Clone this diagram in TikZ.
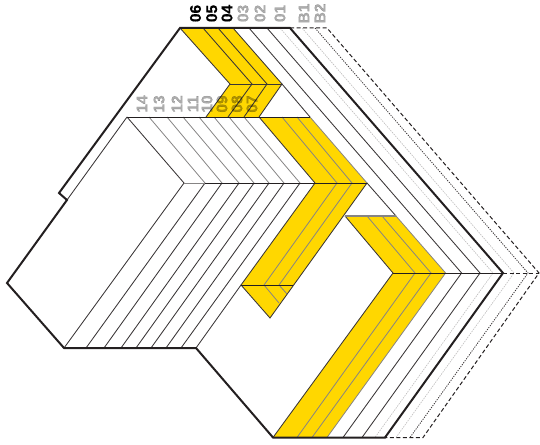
\documentclass[tikz,border=0pt]{standalone}
\usepackage{fontspec}
\setmainfont{Liberation Sans}
\newfontfamily\labfont[FakeBold=0.6]{Liberation Sans Bold}
\definecolor{band}{RGB}{255,215,0}
\definecolor{dk}{RGB}{35,31,32}
\tikzset{
 x=1pt,y=-1pt,
 thick line/.style={draw=dk,line width=2pt,line join=miter},
 thin line/.style={draw=dk!90,line width=.85pt},
 soft line/.style={draw=dk!55,line width=.8pt},
 rule line/.style={draw=dk,line width=1pt},
 dash line/.style={draw=dk,line width=1pt,dash pattern=on 4pt off 2.5pt},
 dot line/.style={draw=dk!90,line width=.8pt,dash pattern=on 1.2pt off 1.2pt},
 faint line/.style={draw=dk!30,line width=.6pt,dash pattern=on 1.5pt off 1pt},
 lab/.style={rotate=90,font=\labfont\fontsize{15.5}{15.5}\selectfont,inner sep=0pt,text=black,text opacity=.32},
 labon/.style={rotate=90,font=\labfont\fontsize{15.5}{15.5}\selectfont,inner sep=0pt,text=black},
}
\begin{document}
\begin{tikzpicture}
\useasboundingbox (0,0) rectangle (540,444);
% yellow bands
\fill[band] (180,28) -- (233,28) -- (282,84) -- (259,117) -- (206,117) -- (230,84) -- cycle;
\fill[band] (259,117) -- (310,117) -- (367,183) -- (270,318) -- (241,285) -- (315,183) -- cycle;
\fill[band] (345,216) -- (396,216) -- (445.6,273) -- (327,437.5) -- (273,437.5) -- (393,273) -- cycle;
% faint and dotted outer layers
\draw[faint line] (280,28) -- (493,273) -- (375,437.5);
\draw[faint line] (302,28) -- (514,273) -- (396,437.5);
\draw[dot line] (315,28) -- (528,273) -- (410,437.5);
\draw[dash line] (290,28) -- (327,28) -- (539,273) -- (423,437.5) -- (385,437.5);
\draw[dash line] (503,273) -- (539,273);
% first group of layers
\draw[thin line] (180,28) -- (230,84) -- (206,117);
\draw[thin line] (203,28) -- (252,84) -- (228,117);
\draw[thin line] (218,28) -- (267,84) -- (244,117);
\draw[thin line] (233,28) -- (282,84) -- (259,117);
\draw[thin line] (282,84) -- (310,117);
\draw[thin line] (230,84) -- (282,84);
% second group
\draw[soft line] (149,117) -- (205,183);
\draw[soft line] (167,117) -- (222,183);
\draw[soft line] (183,117) -- (239,183);
\draw[soft line] (199,117) -- (254,183);
\draw[soft line] (214,117) -- (269,183);
\draw[soft line] (229,117) -- (284,183);
\draw[soft line] (244,117) -- (300,183);
\draw[thin line] (259,117) -- (315,183);
\draw[soft line] (282,117) -- (337,183) -- (264,285) -- (279,303);
\draw[soft line] (297,117) -- (352,183) -- (279,285) -- (287,294);
\draw[soft line] (310,117) -- (367,183);
\draw[thin line] (367,183) -- (270,318) -- (241,285) -- (315,183);
\draw[rule line] (241,285) -- (293,285);
\draw[thin line] (127,117) -- (184,183) -- (64,348);
\draw[thin line] (205,183) -- (86,348);
\draw[thin line] (222,183) -- (104,348);
\draw[thin line] (239,183) -- (121,348);
\draw[thin line] (254,183) -- (136,348);
\draw[thin line] (269,183) -- (151,348);
\draw[thin line] (284,183) -- (166,348);
\draw[thin line] (300,183) -- (181,348);
\draw[thin line] (241,285) -- (196,348);
\draw[soft line] (184,183) -- (205,183);
\draw[rule line] (205,183) -- (367,183);
\draw[rule line] (127,117) -- (310,117);
\draw[thin line] (127,117) -- (67,200);
% third group
\draw[thin line] (367,183) -- (396,216);
\draw[soft line] (367,216) -- (415,273) -- (297,437.5);
\draw[soft line] (382,216) -- (431,273) -- (312,437.5);
\draw[soft line] (396,216) -- (445.6,273) -- (327,437.5);
\draw[thin line] (345,216) -- (393,273) -- (273,437.5);
\draw[soft line,line width=1.2pt] (345,216) -- (396,216);
\draw[thin line] (249,28) -- (461.6,273) -- (343,437.5);
\draw[thin line] (267,28) -- (480,273) -- (362,437.5);
\draw[rule line] (393,273) -- (503,273);
% outline
\draw[thick line] (180,28) -- (290,28) -- (503,273) -- (385,437.5) -- (273,437.5) -- (196,348) -- (64,348) -- (7,283) -- (67,200) -- (59,193) -- cycle;
% labels
\node[labon] (l06) at (195.5,13.5) {06};
\node[labon] (l05) at (211.7,13.5) {05};
\node[labon] (l04) at (227,13.5) {04};
\node[lab] (l03) at (243,13.5) {03};
\node[lab] (l02) at (260,13.5) {02};
\node[lab] (l01) at (280,13.5) {01};
\node[lab] (lb1) at (304,13.5) {B1};
\node[lab] (lb2) at (320,13.5) {B2};
\node[lab] (l14) at (142,104) {14};
\node[lab] (l13) at (159,104) {13};
\node[lab] (l12) at (177,104) {12};
\node[lab] (l11) at (193,104) {11};
\node[lab] (l10) at (207,104) {10};
\node[lab] (l09) at (222,104) {09};
\node[lab] (l08) at (237,104) {08};
\node[lab] (l07) at (252,104) {07};
\end{tikzpicture}
\end{document}
